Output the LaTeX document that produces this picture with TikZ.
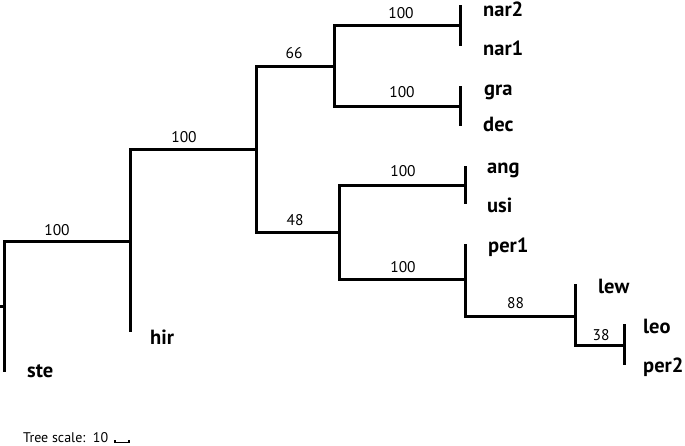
\documentclass[tikz,border=0pt]{standalone}
\usepackage{fontspec}
\setmainfont{PT Sans}
\begin{document}
\begin{tikzpicture}[x=1pt,y=-1pt,
  branch/.style={line width=3pt,line join=miter,line cap=butt},
  leaf/.style={anchor=base west,inner sep=0pt,font=\fontsize{20.5}{23}\selectfont\bfseries},
  boot/.style={anchor=base,inner sep=0pt,font=\fontsize{15.5}{18}\selectfont},
  scaletxt/.style={anchor=base west,inner sep=0pt,font=\fontsize{14}{16}\selectfont}]
\useasboundingbox (0,0) rectangle (685,445);
% node positions
\coordinate (r) at (0,306);
\coordinate (n1) at (4,306);
\coordinate (n2) at (130,241);
\coordinate (n3) at (256,149);
\coordinate (n4) at (334,66);
\coordinate (n5) at (339,232);
\coordinate (n6) at (460,25);
\coordinate (n7) at (460,106);
\coordinate (n8) at (465,185);
\coordinate (n9) at (465,279);
\coordinate (n10) at (575,316);
\coordinate (n11) at (624,345);
% leaf tips
\coordinate (tste) at (4,372);
\coordinate (thir) at (130,332);
\coordinate (tnar2) at (460,5);
\coordinate (tnar1) at (460,46);
\coordinate (tgra) at (460,86);
\coordinate (tdec) at (460,126);
\coordinate (tang) at (465,166);
\coordinate (tusi) at (465,204);
\coordinate (tper1) at (465,244);
\coordinate (tlew) at (575,284);
\coordinate (tleo) at (624,324);
\coordinate (tper2) at (624,365);
% branches
\draw[branch] (r) -- (n1);
\draw[branch] (n1) |- (n2);
\draw[branch] (n1) |- (tste);
\draw[branch] (n2) |- (n3);
\draw[branch] (n2) |- (thir);
\draw[branch] (n3) |- (n4);
\draw[branch] (n3) |- (n5);
\draw[branch] (n4) |- (n6);
\draw[branch] (n4) |- (n7);
\draw[branch] (n6) |- (tnar2);
\draw[branch] (n6) |- (tnar1);
\draw[branch] (n7) |- (tgra);
\draw[branch] (n7) |- (tdec);
\draw[branch] (n5) |- (n8);
\draw[branch] (n5) |- (n9);
\draw[branch] (n8) |- (tang);
\draw[branch] (n8) |- (tusi);
\draw[branch] (n9) |- (tper1);
\draw[branch] (n9) |- (n10);
\draw[branch] (n10) |- (tlew);
\draw[branch] (n10) |- (n11);
\draw[branch] (n11) |- (tleo);
\draw[branch] (n11) |- (tper2);
% leaf labels
\node[leaf] (lnar2) at (483,16) {nar2};
\node[leaf] (lnar1) at (483,55) {nar1};
\node[leaf] (lgra) at (484,95) {gra};
\node[leaf] (ldec) at (483,131) {dec};
\node[leaf] (lang) at (487,173) {ang};
\node[leaf] (lusi) at (487,212) {usi};
\node[leaf] (lper1) at (488,252) {per1};
\node[leaf] (llew) at (598,293) {lew};
\node[leaf] (lleo) at (643,333) {leo};
\node[leaf] (lper2) at (643,372) {per2};
\node[leaf] (lhir) at (150,344) {hir};
\node[leaf] (lste) at (27,377) {ste};
% support values
\node[boot] (b1) at (57,235) {100};
\node[boot] (b2) at (184,142) {100};
\node[boot] (b3) at (294,58) {66};
\node[boot] (b4) at (295,225) {48};
\node[boot] (b5) at (401,18) {100};
\node[boot] (b6) at (402,97) {100};
\node[boot] (b7) at (403,176) {100};
\node[boot] (b8) at (403,272) {100};
\node[boot] (b9) at (515.5,308) {88};
\node[boot] (b10) at (601,340) {38};
% tree scale
\node[scaletxt] (ts) at (23,442) {Tree scale:\ \ 10};
\coordinate (sa) at (115,440);
\coordinate (sb) at (129,440);
\draw[line width=1.2pt] (sa) -- ++(0,2.5) -| (sb);
\end{tikzpicture}
\end{document}
